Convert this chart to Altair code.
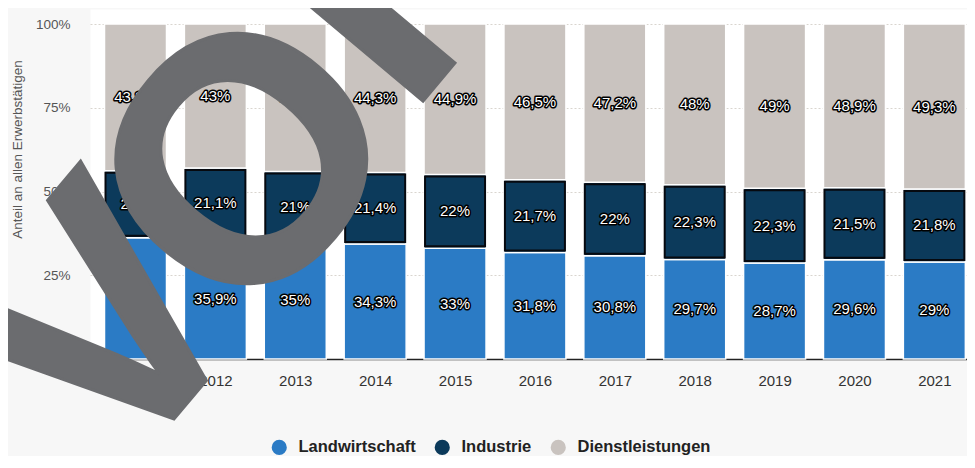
import altair as alt
import pandas as pd

# ---- data ----
years = list(range(2011, 2022))
sectors = ["Landwirtschaft", "Industrie", "Dienstleistungen"]
landwirtschaft = [36.2, 35.9, 35.0, 34.3, 33.0, 31.8, 30.8, 29.7, 28.7, 29.6, 29.0]
industrie = [20.0, 21.1, 21.0, 21.4, 22.0, 21.7, 22.0, 22.3, 22.3, 21.5, 21.8]
dienstleistungen = [43.8, 43.0, 44.0, 44.3, 44.9, 46.5, 47.2, 48.0, 49.0, 48.9, 49.3]
colors = ["#2b7bc5", "#0c3a5b", "#c9c3bf"]
y_ticks = [0, 0.25, 0.5, 0.75, 1.0]
y_title = "Anteil an allen Erwerbstätigen"
watermark_letters = ["V", "O", "I"]

rows = []
for i, yr in enumerate(years):
    for k, (name, vals) in enumerate(zip(sectors, [landwirtschaft, industrie, dienstleistungen])):
        rows.append({"year": yr, "sector": name, "value": vals[i], "order": k})
df = pd.DataFrame(rows)
wm_df = pd.DataFrame({"letter": watermark_letters})

FONT = "Liberation Sans"

x_scale = alt.Scale(domain=[2010.493, 2021.346], nice=False, zero=False)
y_scale = alt.Scale(domain=[0, 1.045], nice=False, zero=True)

x_axis = alt.Axis(values=years, format="d", title=None, grid=False, ticks=False,
                  domainColor="#222222", domainWidth=1.5, labelFontSize=15,
                  labelColor="#333333", labelPadding=14, labelFont=FONT)
y_axis = alt.Axis(values=y_ticks, format=".0%", title=y_title, domain=False, ticks=False,
                  grid=True, gridColor="#d9d5cf", gridDash=[2, 2], gridWidth=1,
                  labelFontSize=13.5, labelColor="#555555", labelPadding=20, labelFont=FONT,
                  titleFontSize=13.5, titleFontWeight="normal", titleColor="#555555",
                  titleFont=FONT, titleAngle=270, titleX=-73, titleY=140,
                  titleAlign="center", titleBaseline="middle")

base = (
    alt.Chart(df)
    .transform_stack(stack="value", groupby=["year"], as_=["y0", "y1"],
                     offset="normalize", sort=[alt.SortField("order", "ascending")])
    .transform_calculate(
        mid="(datum.y0 + datum.y1) / 2",
        label="replace(format(datum.value, '.1~f'), '.', ',') + '%'",
    )
)

bars = base.mark_bar(size=62, stroke="#ffffff", strokeWidth=1.5).encode(
    x=alt.X("year:Q", scale=x_scale, axis=x_axis),
    y=alt.Y("y0:Q", scale=y_scale, axis=y_axis),
    y2="y1:Q",
    color=alt.Color(
        "sector:N",
        sort=sectors,
        scale=alt.Scale(domain=sectors, range=colors),
        legend=alt.Legend(
            orient="none", legendX=181, legendY=430, direction="horizontal",
            title=None, symbolType="circle", symbolSize=230, symbolStrokeWidth=0,
            labelFontSize=16.5, labelFontWeight="bold", labelColor="#222222",
            labelFont=FONT, columnPadding=18, labelOffset=11, padding=0,
        ),
    ),
)

navy = (
    base.transform_filter(alt.datum.sector == "Industrie")
    .mark_bar(size=60, color=colors[1], stroke="#06090f", strokeWidth=2,
              yOffset=-2, y2Offset=2)
    .encode(x="year:Q", y="y0:Q", y2="y1:Q")
)

halo = base.mark_text(font=FONT, fontSize=15, fill="#000000", stroke="#000000",
                      strokeWidth=3, strokeJoin="round").encode(
    x="year:Q", y="mid:Q", text="label:N")
labels = base.mark_text(font=FONT, fontSize=15, fill="#ffffff").encode(
    x="year:Q", y="mid:Q", text="label:N")

wm = alt.Chart(wm_df)
WM_COLOR = "#6b6c6f"
wm_style = dict(font=FONT, fontWeight="bold", fontSize=345, baseline="alphabetic",
                align="center", fill=WM_COLOR, stroke=WM_COLOR, strokeWidth=3,
                strokeJoin="miter", angle=310)
wm_v = wm.transform_filter(alt.datum.letter == "V").mark_text(**wm_style).encode(
    x=alt.value(100), y=alt.value(391), text="letter:N")
wm_o = wm.transform_filter(alt.datum.letter == "O").mark_text(**wm_style).encode(
    x=alt.value(243), y=alt.value(226), text="letter:N")
wm_i = wm.transform_filter(alt.datum.letter == "I").mark_text(**wm_style).encode(
    x=alt.value(349), y=alt.value(73), text="letter:N")

chart = (
    alt.layer(bars, navy, halo, labels, wm_v, wm_o, wm_i)
    .properties(
        width=877, height=350,
        autosize=alt.AutoSizeParams(type="none"),
        padding={"left": 82, "top": 1, "right": 0, "bottom": 97},
        background="#f7f7f7",
    )
    .configure_view(fill="#ffffff", strokeOpacity=0)
)

chart.save("out.html", embed_options={"renderer": "svg", "actions": False})
